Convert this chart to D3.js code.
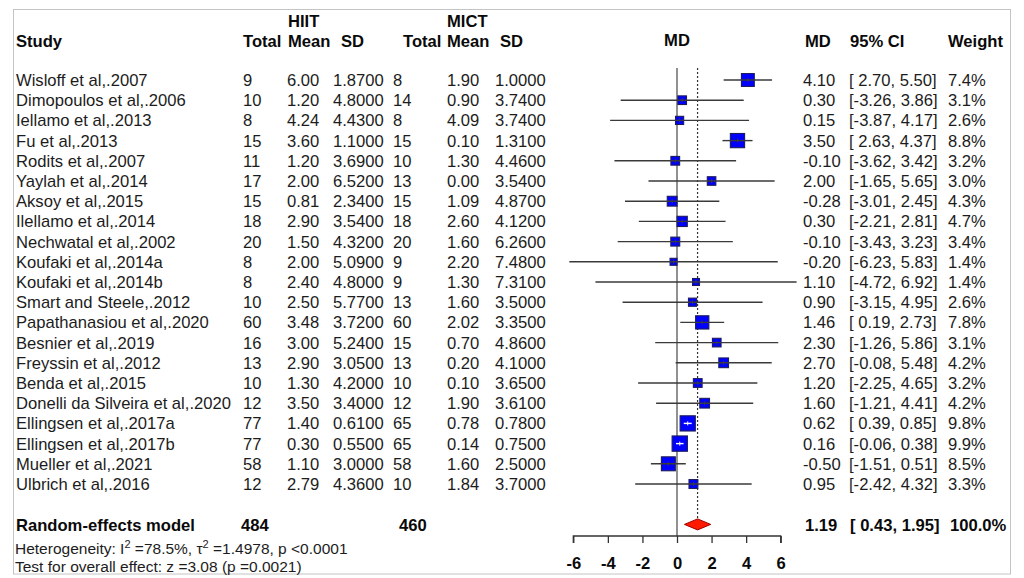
<!DOCTYPE html>
<html>
<head>
<meta charset="utf-8">
<script src="https://cdn.jsdelivr.net/npm/d3@7"></script>
<style>
  body { margin: 0; background: #fff; }
  svg { font-family: "Liberation Sans", Arial, sans-serif; }
</style>
</head>
<body>
<svg id="forest"></svg>
<script>
// forest plot of HIIT vs MICT, mean difference with random-effects pooling
const studies = [
  "Wisloff et al,.2007", "Dimopoulos et al,.2006", "Iellamo et al,.2013", "Fu et al,.2013",
  "Rodits et al,.2007", "Yaylah et al,.2014", "Aksoy et al,.2015", "Ilellamo et al,.2014",
  "Nechwatal et al,.2002", "Koufaki et al,.2014a", "Koufaki et al,.2014b", "Smart and Steele,.2012",
  "Papathanasiou et al,.2020", "Besnier et al,.2019", "Freyssin et al,.2012", "Benda et al,.2015",
  "Donelli da Silveira et al,.2020", "Ellingsen et al,.2017a", "Ellingsen et al,.2017b",
  "Mueller et al,.2021", "Ulbrich et al,.2016",
];
const hiitN = [9, 10, 8, 15, 11, 17, 15, 18, 20, 8, 8, 10, 60, 16, 13, 10, 12, 77, 77, 58, 12];
const hiitMean = [6.0, 1.2, 4.24, 3.6, 1.2, 2.0, 0.81, 2.9, 1.5, 2.0, 2.4, 2.5, 3.48, 3.0, 2.9, 1.3, 3.5, 1.4, 0.3, 1.1, 2.79];
const hiitSD = [1.87, 4.8, 4.43, 1.1, 3.69, 6.52, 2.34, 3.54, 4.32, 5.09, 4.8, 5.77, 3.72, 5.24, 3.05, 4.2, 3.4, 0.61, 0.55, 3.0, 4.36];
const mictN = [8, 14, 8, 15, 10, 13, 15, 18, 20, 9, 9, 13, 60, 15, 13, 10, 12, 65, 65, 58, 10];
const mictMean = [1.9, 0.9, 4.09, 0.1, 1.3, 0.0, 1.09, 2.6, 1.6, 2.2, 1.3, 1.6, 2.02, 0.7, 0.2, 0.1, 1.9, 0.78, 0.14, 1.6, 1.84];
const mictSD = [1.0, 3.74, 3.74, 1.31, 4.46, 3.54, 4.87, 4.12, 6.26, 7.48, 7.31, 3.5, 3.35, 4.86, 4.1, 3.65, 3.61, 0.78, 0.75, 2.5, 3.7];
const md = [4.1, 0.3, 0.15, 3.5, -0.1, 2.0, -0.28, 0.3, -0.1, -0.2, 1.1, 0.9, 1.46, 2.3, 2.7, 1.2, 1.6, 0.62, 0.16, -0.5, 0.95];
const ciLow = [2.7, -3.26, -3.87, 2.63, -3.62, -1.65, -3.01, -2.21, -3.43, -6.23, -4.72, -3.15, 0.19, -1.26, -0.08, -2.25, -1.21, 0.39, -0.06, -1.51, -2.42];
const ciHigh = [5.5, 3.86, 4.17, 4.37, 3.42, 5.65, 2.45, 2.81, 3.23, 5.83, 6.92, 4.95, 2.73, 5.86, 5.48, 4.65, 4.41, 0.85, 0.38, 0.51, 4.32];
const weights = [7.4, 3.1, 2.6, 8.8, 3.2, 3.0, 4.3, 4.7, 3.4, 1.4, 1.4, 2.6, 7.8, 3.1, 4.2, 3.2, 4.2, 9.8, 9.9, 8.5, 3.3];
const pooledTotals = [484, 460];
const pooled = [1.19, 0.43, 1.95]; // estimate, lower, upper
const xTicks = [-6, -4, -2, 0, 2, 4, 6];

const width = 1024, height = 578;
const svg = d3.select("#forest").attr("width", width).attr("height", height);

svg.append("rect")
  .attr("x", 13.5).attr("y", 9.5)
  .attr("width", 997).attr("height", 564.5)
  .attr("fill", "#fff").attr("stroke", "#c4c4c4");

const x = d3.scaleLinear().domain([-6, 6]).range([573.3, 780.7]);
const y = d3.scaleLinear().domain([0, 20]).range([80, 484]);
const box = d3.scaleLinear().domain([0, 10]).range([5.6, 15.4]);
const pooledY = y(22);
const axisY = 536;
const fs = 16.6;

const textColor = "#1c1c1c";
const cols = { study: 16, n1: 243, m1: 287, s1: 333, n2: 393, m2: 447, s2: 495, md: 803, ci: 849, w: 948 };

// headers
const head = svg.append("g").attr("font-weight", "bold").attr("font-size", fs).attr("fill", "#0a0a0a");
[
  ["HIIT", 288, 27], ["MICT", 447, 27],
  ["Study", 16, 47], ["Total", 243, 47], ["Mean", 288, 47], ["SD", 341, 47],
  ["Total", 403, 47], ["Mean", 447, 47], ["SD", 500, 47],
  ["MD", 805, 47], ["95% CI", 850, 47], ["Weight", 948, 47],
].forEach(([t, tx, ty]) => head.append("text").attr("x", tx).attr("y", ty).text(t));
head.append("text").attr("x", x(0)).attr("y", 46).attr("text-anchor", "middle").text("MD");

const pad = (v) => (v < 0 ? "" : " ") + v.toFixed(2);
const rows = studies.map((s, i) => ({
  study: s, i,
  cells: [
    [cols.study, s], [cols.n1, hiitN[i]], [cols.m1, hiitMean[i].toFixed(2)], [cols.s1, hiitSD[i].toFixed(4)],
    [cols.n2, mictN[i]], [cols.m2, mictMean[i].toFixed(2)], [cols.s2, mictSD[i].toFixed(4)],
    [cols.md, md[i].toFixed(2)], [cols.ci, `[${pad(ciLow[i])}, ${ciHigh[i].toFixed(2)}]`],
    [cols.w, weights[i].toFixed(1) + "%"],
  ],
}));

const rowG = svg.append("g").attr("font-size", fs).attr("fill", textColor);
rowG.selectAll("g")
  .data(rows)
  .join("g")
  .attr("transform", (d) => `translate(0,${y(d.i) + 6})`)
  .selectAll("text")
  .data((d) => d.cells)
  .join("text")
  .attr("x", (d) => d[0])
  .text((d) => d[1]);

// reference lines
svg.append("line")
  .attr("x1", x(0)).attr("x2", x(0)).attr("y1", 68).attr("y2", axisY)
  .attr("stroke", "#555").attr("stroke-width", 1.3);
svg.append("line")
  .attr("x1", x(pooled[0])).attr("x2", x(pooled[0])).attr("y1", 68).attr("y2", pooledY - 5)
  .attr("stroke", "#333").attr("stroke-width", 1.2).attr("stroke-dasharray", "2,2");

// study estimates
const marks = svg.append("g");
studies.forEach((s, i) => {
  const cy = y(i);
  const side = box(weights[i]);
  const inside = x(ciHigh[i]) - x(ciLow[i]) < side;
  marks.append("rect")
    .attr("x", x(md[i]) - side / 2).attr("y", cy - side / 2)
    .attr("width", side).attr("height", side)
    .attr("fill", "#0000ff").attr("stroke", "#1c1c5c").attr("stroke-width", 1.1);
  const lc = inside ? "#fff" : "#3a3a3a";
  marks.append("line")
    .attr("x1", x(ciLow[i])).attr("x2", x(ciHigh[i])).attr("y1", cy).attr("y2", cy)
    .attr("stroke", lc).attr("stroke-width", 1.4);
  marks.append("line")
    .attr("x1", x(md[i])).attr("x2", x(md[i])).attr("y1", cy - 2).attr("y2", cy + 2)
    .attr("stroke", lc).attr("stroke-width", 1);
});

// pooled diamond
svg.append("path")
  .attr("d", `M${x(pooled[1])},${pooledY} L${x(pooled[0])},${pooledY - 5.5} L${x(pooled[2])},${pooledY} L${x(pooled[0])},${pooledY + 5.5} Z`)
  .attr("fill", "#ff1a00").attr("stroke", "#a00000").attr("stroke-width", 1);

// pooled row text
const pg = svg.append("g").attr("font-size", fs).attr("font-weight", "bold").attr("fill", "#0a0a0a");
[
  [cols.study, "Random-effects model"], [241, pooledTotals[0]], [399, pooledTotals[1]],
  [805, pooled[0].toFixed(2)], [850, `[${pad(pooled[1])}, ${pooled[2].toFixed(2)}]`], [950, "100.0%"],
].forEach(([tx, t]) => pg.append("text").attr("x", tx).attr("y", pooledY + 6.5).text(t));

// heterogeneity & overall effect
const het = svg.append("text").attr("x", 15).attr("y", 554).attr("font-size", 15.5).attr("fill", textColor);
het.append("tspan").text("Heterogeneity: I");
het.append("tspan").attr("dy", -6).attr("font-size", 11).text("2");
het.append("tspan").attr("dy", 6).text(" =78.5%, \u03c4");
het.append("tspan").attr("dy", -6).attr("font-size", 11).text("2");
het.append("tspan").attr("dy", 6).text(" =1.4978, p <0.0001");
svg.append("text").attr("x", 15).attr("y", 571.5).attr("font-size", 15.5).attr("fill", textColor)
  .text("Test for overall effect: z =3.08 (p =0.0021)");

// x axis
const axis = svg.append("g").attr("transform", `translate(0,${axisY})`)
  .call(d3.axisBottom(x).tickValues(xTicks).tickSize(7).tickPadding(14).tickFormat(d3.format("d")));
axis.select(".domain").attr("stroke", "#333").attr("stroke-width", 1.3).attr("d", `M${x(-6)},7V0H${x(6)}V7`);
axis.selectAll(".tick line").attr("stroke", "#333").attr("stroke-width", 1.3);
axis.selectAll(".tick text")
  .attr("font-size", fs).attr("font-weight", "bold").attr("fill", "#0a0a0a")
  .attr("font-family", "\"Liberation Sans\", Arial, sans-serif")
  .text((d) => (d < 0 ? "-" + Math.abs(d) : d));
</script>
</body>
</html>
